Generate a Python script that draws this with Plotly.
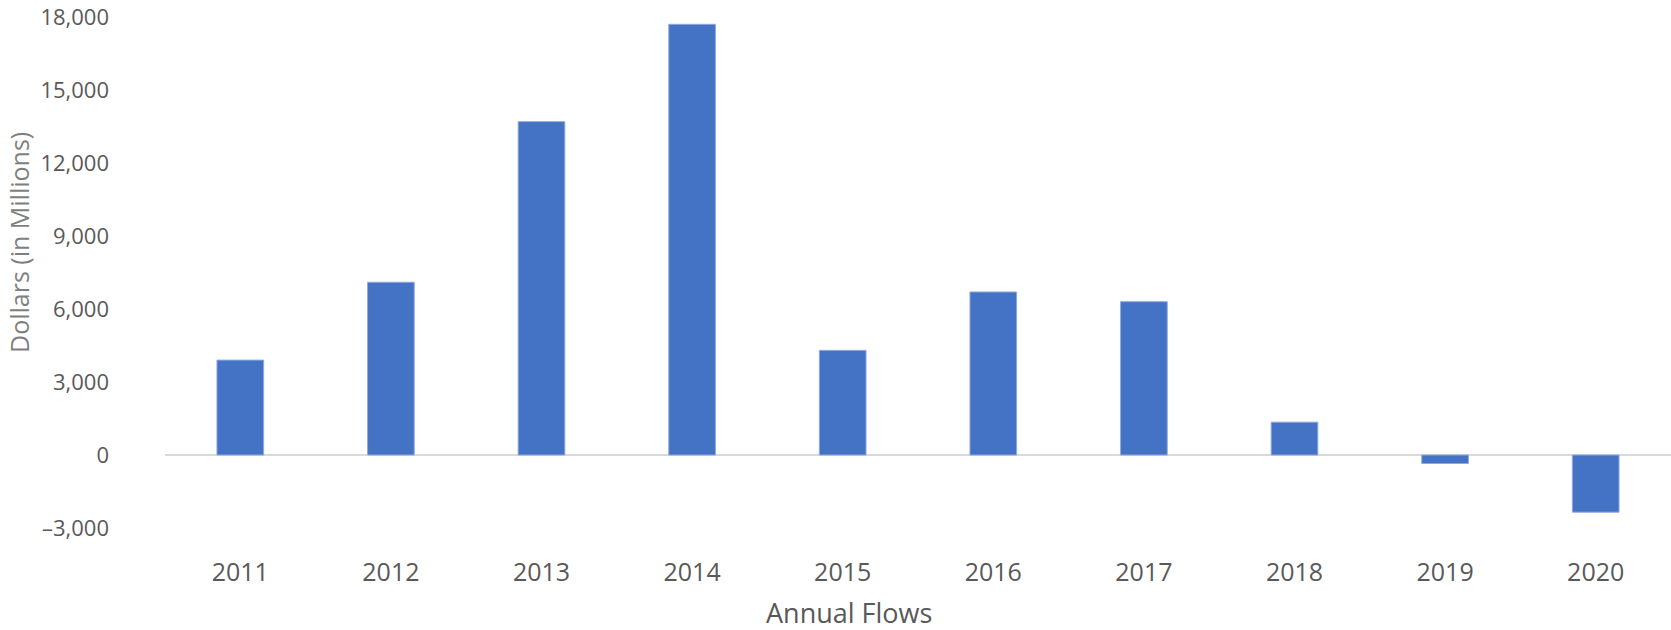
import plotly.graph_objects as go

years = ["2011", "2012", "2013", "2014", "2015", "2016", "2017", "2018", "2019", "2020"]
flows = [3900, 7100, 13700, 17700, 4300, 6700, 6300, 1350, -350, -2350]
y_ticks = [-3000, 0, 3000, 6000, 9000, 12000, 15000, 18000]
y_tick_labels = ["\u20133,000", "0", "3,000", "6,000", "9,000", "12,000", "15,000", "18,000"]

L, R, T, B = 165, 0, 17, 102
W, H = 1671, 630
plot_w = W - L - R
plot_h = H - T - B

fig = go.Figure()
fig.add_trace(go.Bar(
    x=years, y=flows,
    marker=dict(color="#4472C4", line=dict(color="#8FAADC", width=1)),
    width=0.31,
))

fig.update_layout(
    width=W, height=H,
    margin=dict(l=L, r=R, t=T, b=B),
    paper_bgcolor="white", plot_bgcolor="white",
    showlegend=False,
    font=dict(family="Open Sans", color="#595959"),
    xaxis=dict(
        showgrid=False, showline=False, zeroline=False, ticks="",
        tickfont=dict(size=25, color="#595959"),
        ticklabelstandoff=27,
    ),
    yaxis=dict(
        range=[-3000, 18000], tickvals=y_ticks, ticktext=y_tick_labels,
        showgrid=False, showline=False, ticks="",
        zeroline=True, zerolinecolor="#D9D9D9", zerolinewidth=2,
        tickfont=dict(size=22, color="#595959"),
        ticklabelstandoff=55,
    ),
    annotations=[
        dict(
            text="Annual Flows",
            x=(849 - L) / plot_w, y=(H - B - 612) / plot_h,
            xref="paper", yref="paper", xanchor="center", yanchor="middle",
            showarrow=False, font=dict(size=27, color="#595959"),
        ),
        dict(
            text="Dollars (in Millions)", textangle=-90,
            x=(19 - L) / plot_w, y=(H - B - 243) / plot_h,
            xref="paper", yref="paper", xanchor="center", yanchor="middle",
            showarrow=False, font=dict(size=25, color="#7F7F7F"),
        ),
    ],
)

fig.write_html("out.html")
